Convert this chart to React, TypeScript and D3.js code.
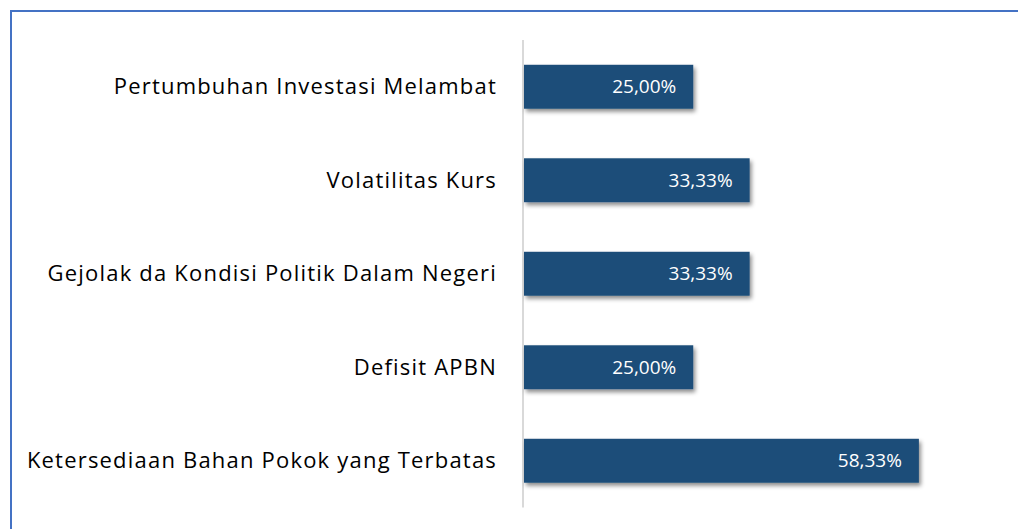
import React, { useEffect, useRef } from 'react';
import * as d3 from 'd3';

const categories = [
  'Pertumbuhan Investasi Melambat',
  'Volatilitas Kurs',
  'Gejolak da Kondisi Politik Dalam Negeri',
  'Defisit APBN',
  'Ketersediaan Bahan Pokok yang Terbatas',
];
const values = [25.0, 33.33, 33.33, 25.0, 58.33];

const W = 1018;
const H = 529;

const App = () => {
  const svgRef = useRef<SVGSVGElement>(null);

  useEffect(() => {
    const svg = d3.select(svgRef.current);
    svg.selectAll('*').remove();
    svg.attr('width', W).attr('height', H);

    const defs = svg.append('defs');
    const f = defs.append('filter').attr('id', 'shadow').attr('x', '-10%').attr('y', '-30%').attr('width', '130%').attr('height', '180%');
    f.append('feDropShadow')
      .attr('dx', 2).attr('dy', 3).attr('stdDeviation', 2)
      .attr('flood-color', '#000').attr('flood-opacity', 0.45);

    // frame
    svg.append('rect')
      .attr('x', 11).attr('y', 11)
      .attr('width', W + 20).attr('height', H + 20)
      .attr('fill', 'white')
      .attr('stroke', '#4472C4').attr('stroke-width', 2);

    const x0 = 524;
    const x = d3.scaleLinear().domain([0, 100]).range([x0, x0 + 677]);
    const y = d3.scaleBand<string>()
      .domain(categories)
      .range([40, 507.5])
      .paddingInner(0.53)
      .paddingOuter(0.265);

    // axis line
    svg.append('line')
      .attr('x1', x0 - 1).attr('x2', x0 - 1)
      .attr('y1', y.range()[0]).attr('y2', y.range()[1])
      .attr('stroke', '#d9d9d9').attr('stroke-width', 2);

    const rows = svg.selectAll('g.row')
      .data(categories)
      .enter()
      .append('g')
      .attr('class', 'row');

    rows.append('rect')
      .attr('x', x(0))
      .attr('y', d => y(d)!)
      .attr('width', (d, i) => x(values[i]) - x(0))
      .attr('height', y.bandwidth())
      .attr('fill', '#1F4E79')
      .attr('filter', 'url(#shadow)');

    rows.append('text')
      .attr('x', (d, i) => x(values[i]) - 17)
      .attr('y', d => y(d)! + y.bandwidth() / 2)
      .attr('dy', '0.35em')
      .attr('text-anchor', 'end')
      .attr('fill', 'white')
      .attr('font-family', 'Open Sans, sans-serif')
      .attr('font-size', 19)
      .text((d, i) => values[i].toFixed(2).replace('.', ',') + '%');

    rows.append('text')
      .attr('x', 497)
      .attr('y', d => y(d)! + y.bandwidth() / 2)
      .attr('dy', '0.35em')
      .attr('text-anchor', 'end')
      .attr('fill', '#000')
      .attr('font-family', 'Open Sans, sans-serif')
      .attr('font-size', 22)
      .attr('letter-spacing', 1.2)
      .text(d => d);
  }, []);

  return (
    <svg
      ref={svgRef}
      style={{ position: 'absolute', left: 0, top: 0, display: 'block' }}
    />
  );
};

export default App;
